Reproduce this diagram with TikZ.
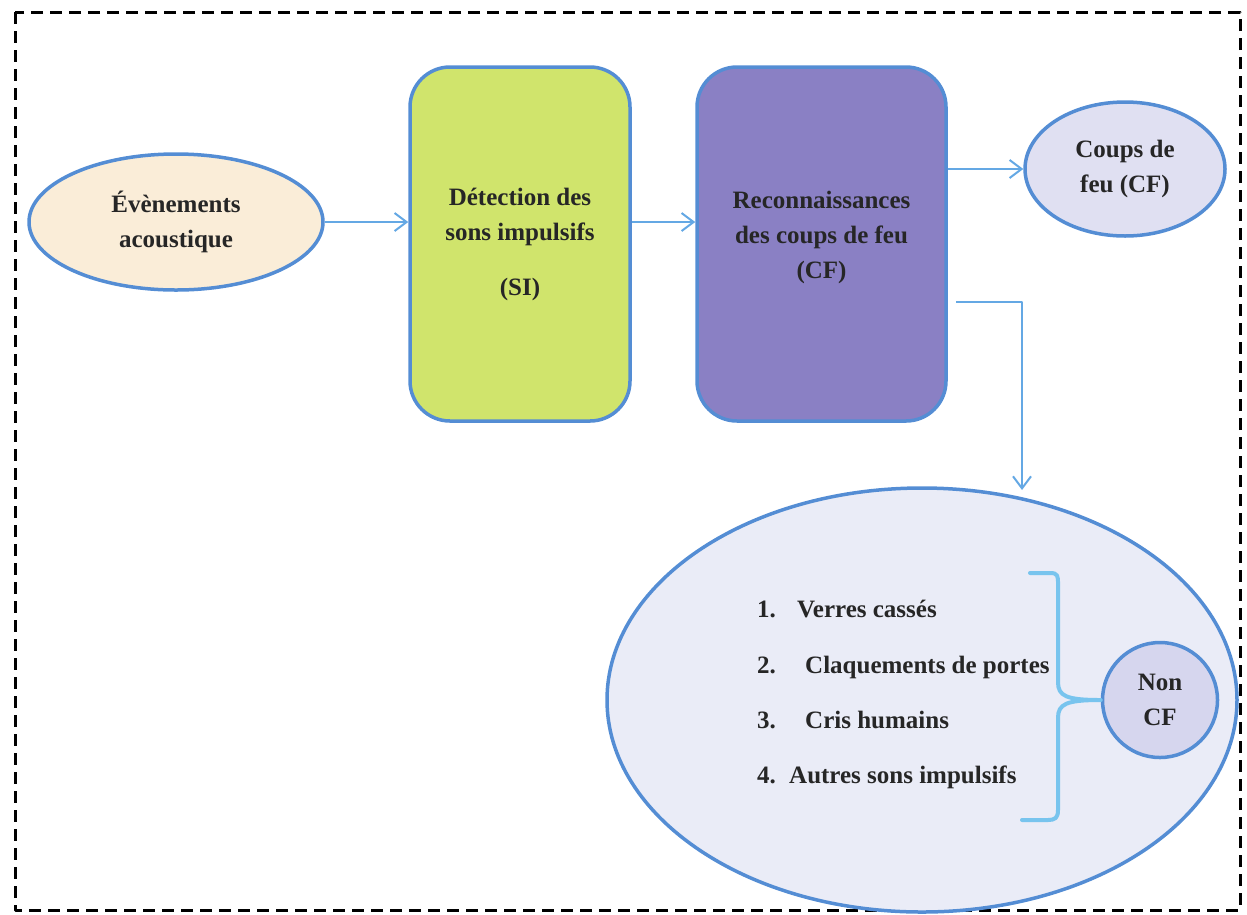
\documentclass[tikz,border=0pt]{standalone}
\usepackage{fontspec}
\setmainfont{Liberation Serif}
\usetikzlibrary{arrows.meta,shapes.geometric}

\definecolor{bordbleu}{RGB}{84,141,212}
\definecolor{flechebleu}{RGB}{100,168,228}
\definecolor{accolade}{RGB}{120,196,238}
\definecolor{beige}{RGB}{250,237,216}
\definecolor{vertjaune}{RGB}{208,228,108}
\definecolor{violet}{RGB}{138,128,196}
\definecolor{lavande}{RGB}{224,224,242}
\definecolor{lavclair}{RGB}{234,236,247}
\definecolor{lavnon}{RGB}{214,214,238}

\begin{document}
\begin{tikzpicture}[x=1pt, y=-1pt, line join=round,
  txt/.style={font=\fontsize{25}{35}\selectfont\bfseries, align=center, text=black!85},
  bulle/.style={ellipse, draw=bordbleu, line width=3.5pt, inner sep=0pt, txt},
  bloc/.style={rectangle, rounded corners=40pt, draw=bordbleu, line width=3.5pt,
    minimum width=220pt, minimum height=354pt, inner sep=0pt, txt},
  fleche/.style={draw=flechebleu, line width=2pt, -{Straight Barb[length=12pt,width=18pt]}},
  item/.style={txt, anchor=base west, inner sep=0pt}]

  %% ════ 外框（虚线）════
  \draw[line width=3pt, dash pattern=on 12pt off 7pt] (15,12) rectangle (1240,910);

  %% ════ 主流程节点 ════
  \node[bulle, fill=beige, minimum width=294pt, minimum height=136pt] (evt) at (176,222) {Évènements\\acoustique};
  \node[bloc, fill=vertjaune] (detect) at (520,244) {Détection des\\sons impulsifs\\[20pt](SI)};
  \node[bloc, fill=violet, minimum width=249pt] (recon) at (821.5,244) {};
  \node[txt] (recon-txt) at (recon) [yshift=7pt] {Reconnaissances\\des coups de feu\\(CF)};
  \node[bulle, fill=lavande, minimum width=200pt, minimum height=134pt] (cf) at (1125,169) {Coups de\\feu (CF)};

  %% ════ 非枪声区域 ════
  \node[bulle, fill=lavclair, minimum width=630pt, minimum height=424pt] (zone) at (922,700) {};
  \node[bulle, circle, fill=lavnon, minimum size=115pt] (noncf) at (1160,700) {Non\\CF};

  % 列表（编号与文字分开放）
  \node[item] (num1) at (757,617) {1.};
  \node[item] (lib1) at (797,617) {Verres cassés};
  \node[item] (num2) at (757,673) {2.};
  \node[item] (lib2) at (805,673) {Claquements de portes};
  \node[item] (num3) at (757,728) {3.};
  \node[item] (lib3) at (805,728) {Cris humains};
  \node[item] (num4) at (757,783) {4.};
  \node[item] (lib4) at (789,783) {Autres sons impulsifs};

  % 大括号
  \draw[draw=accolade, line width=4pt, line cap=round]
    (1030,573) -- (1050,573) .. controls (1058,573) and (1058,576) .. (1058,584)
    -- (1058,682) .. controls (1058,696) and (1066,700) .. (noncf.west)
    .. controls (1066,700) and (1058,704) .. (1058,718)
    -- (1058,810) .. controls (1058,818) and (1055,820) .. (1048,820) -- (1022,820);

  %% ════ 箭头 ════
  \coordinate (depart) at (956,302);
  \coordinate (chute) at (1022,490);
  \draw[fleche] (evt.east) -- (evt.east -| detect.west);
  \draw[fleche] (detect.east |- evt.east) -- (recon.west |- evt.east);
  \draw[fleche] (recon.east |- cf.west) -- (cf.west);
  \draw[fleche] (depart) -| (chute);

  % 固定画布
  \pgfresetboundingbox
  \path[use as bounding box] (0,0) rectangle (1247,914);
\end{tikzpicture}
\end{document}
